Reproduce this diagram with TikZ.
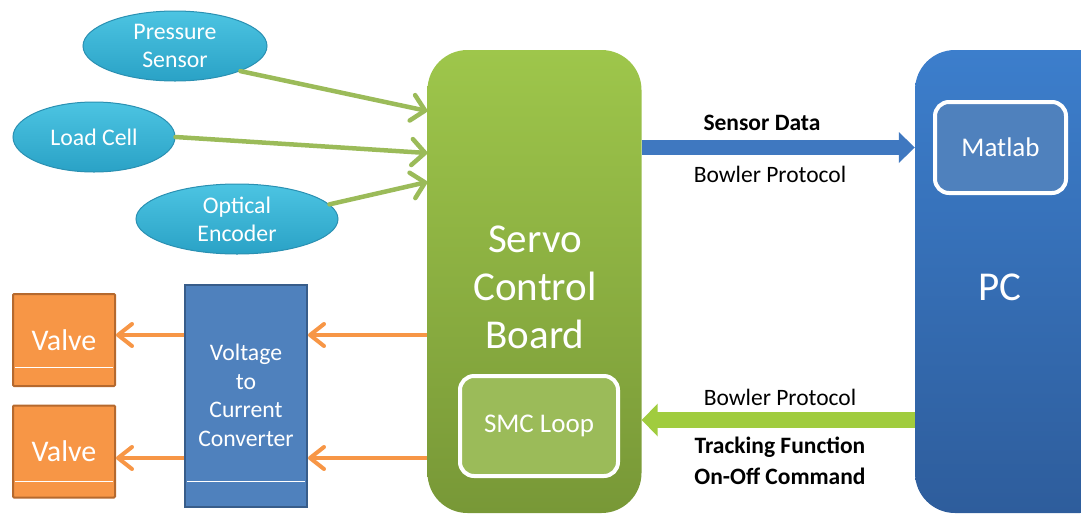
\documentclass[tikz,border=0pt]{standalone}
\usepackage{fontspec}
\setmainfont{Carlito}
\usetikzlibrary{arrows.meta,shapes.geometric}
\definecolor{cyantop}{HTML}{4CC4E2}
\definecolor{cyanbot}{HTML}{2AA2C6}
\definecolor{cyanedge}{HTML}{2A90B2}
\definecolor{boardtop}{HTML}{9EC64B}
\definecolor{boardbot}{HTML}{789837}
\definecolor{pctop}{HTML}{3C7ECC}
\definecolor{pcbot}{HTML}{2E5D9C}
\definecolor{accblue}{HTML}{4F81BD}
\definecolor{blueedge}{HTML}{385D8A}
\definecolor{accgreen}{HTML}{9BBB59}
\definecolor{accorange}{HTML}{F79646}
\definecolor{orangeedge}{HTML}{B5692E}
\definecolor{arrowblue}{HTML}{3F78C0}
\definecolor{arrowgreen}{HTML}{A0CC3E}
\tikzset{
  sensor/.style={ellipse, top color=cyantop, bottom color=cyanbot, draw=cyanedge, line width=1pt,
    text=white, align=center, inner sep=0pt, font=\fontsize{23.8}{28}\selectfont},
  bigbox/.style={rectangle, rounded corners=40pt, inner sep=0pt, minimum width=#1, minimum height=463pt},
  innerbox/.style={rectangle, rounded corners=14pt, draw=white, line width=4pt, text=white,
    inner sep=0pt, font=\fontsize{27}{30}\selectfont},
  valvebox/.style={rectangle, rounded corners=1pt, fill=accorange, draw=orangeedge, line width=2pt,
    minimum width=102pt, minimum height=92pt, inner sep=0pt, text=white, font=\fontsize{30}{34}\selectfont},
  vcbox/.style={rectangle, fill=accblue, draw=blueedge, line width=2pt, minimum width=122pt,
    minimum height=222pt, inner sep=0pt, text=white, align=center, font=\fontsize{23.7}{28.5}\selectfont},
  bigtext/.style={text=white, align=center, inner sep=0pt, font=\fontsize{41}{48}\selectfont},
  lab/.style={text=black, inner sep=0pt, font=\fontsize{23.5}{26}\selectfont},
  boldlab/.style={text=black, inner sep=0pt, font=\fontsize{23.5}{26}\selectfont\bfseries},
  sensorarrow/.style={draw=accgreen, line width=4.5pt, line cap=round,
    -{Straight Barb[length=13pt,width=26pt,line cap=round,line join=round]}},
  orangearrow/.style={draw=accorange, line width=4pt,
    -{Straight Barb[length=14pt,width=22pt,line cap=round,line join=round]}},
  bluearrow/.style={draw=arrowblue, line width=15pt, -{Triangle[length=16pt,width=30pt]}},
  greenbigarrow/.style={draw=arrowgreen, line width=16pt, -{Triangle[length=16pt,width=32pt]}},
  whiteline/.style={draw=white, line width=1pt}
}
\begin{document}
\begin{tikzpicture}[x=1pt,y=-1pt]
\useasboundingbox (0,0) rectangle (1081,515);
\clip (0,0) rectangle (1081,515);

% main boxes
\node[bigbox=214pt, top color=boardtop, bottom color=boardbot] (board) at (534.5,281.5) {};
\node[bigbox=205pt, top color=pctop, bottom color=pcbot] (pc) at (1017.5,281.5) {};
\node[bigtext] (servotext) at (535,287) {Servo\\Control\\Board};
\node[bigtext] (pctext) at (1000,287) {PC};
\node[innerbox, fill=accgreen, minimum width=158pt, minimum height=100pt] (smc) at (539,426) {SMC Loop};
\node[innerbox, fill=accblue, minimum width=131pt, minimum height=91pt] (matlab) at (1000.5,147.5) {Matlab};

% sensors
\node[sensor, minimum width=184pt, minimum height=70pt] (ps) at (175,46) {Pressure\\Sensor};
\node[sensor, minimum width=162pt, minimum height=70pt] (lc) at (94,137) {Load Cell};
\node[sensor, minimum width=202pt, minimum height=70pt] (oe) at (237,219) {Optical\\Encoder};

% converter and valves
\node[vcbox] (vc) at (246,395.5) {Voltage\\to\\Current\\Converter};
\node[valvebox] (v1) at (64,340) {Valve};
\node[valvebox] (v2) at (64,451.5) {Valve};
\draw[whiteline] ([xshift=3pt,yshift=26.5pt]vc.south west) -- ([xshift=-3pt,yshift=26.5pt]vc.south east);
\draw[whiteline] ([xshift=3pt,yshift=20pt]v1.south west) -- ([xshift=-3pt,yshift=20pt]v1.south east);
\draw[whiteline] ([xshift=3pt,yshift=17pt]v2.south west) -- ([xshift=-3pt,yshift=17pt]v2.south east);

% sensor arrows
\draw[sensorarrow] (ps.-21) -- (board.west |- 0,111);
\draw[sensorarrow] (lc.east) -- (board.west |- 0,153);
\draw[sensorarrow] (oe.9) -- (board.west |- 0,182);

% orange arrows
\draw[orangearrow] (board.west |- 0,335) -- (vc.east |- 0,335);
\draw[orangearrow] (board.west |- 0,458) -- (vc.east |- 0,458);
\draw[orangearrow] (vc.west |- 0,335) -- (v1.east |- 0,335);
\draw[orangearrow] (vc.west |- 0,458) -- (v2.east |- 0,458);

% communication arrows
\draw[bluearrow] (board.east |- matlab) -- (pc.west |- matlab);
\draw[greenbigarrow] (pc.west |- 0,420) -- (board.east |- 0,420);

% labels
\node[boldlab] (sd) at (762,123) {Sensor Data};
\node[lab] (bp1) at (770,174) {Bowler Protocol};
\node[lab] (bp2) at (780,397) {Bowler Protocol};
\node[boldlab] (tf) at (780,447) {Tracking Function};
\node[boldlab] (oo) at (780,476) {On-Off Command};
\end{tikzpicture}
\end{document}
